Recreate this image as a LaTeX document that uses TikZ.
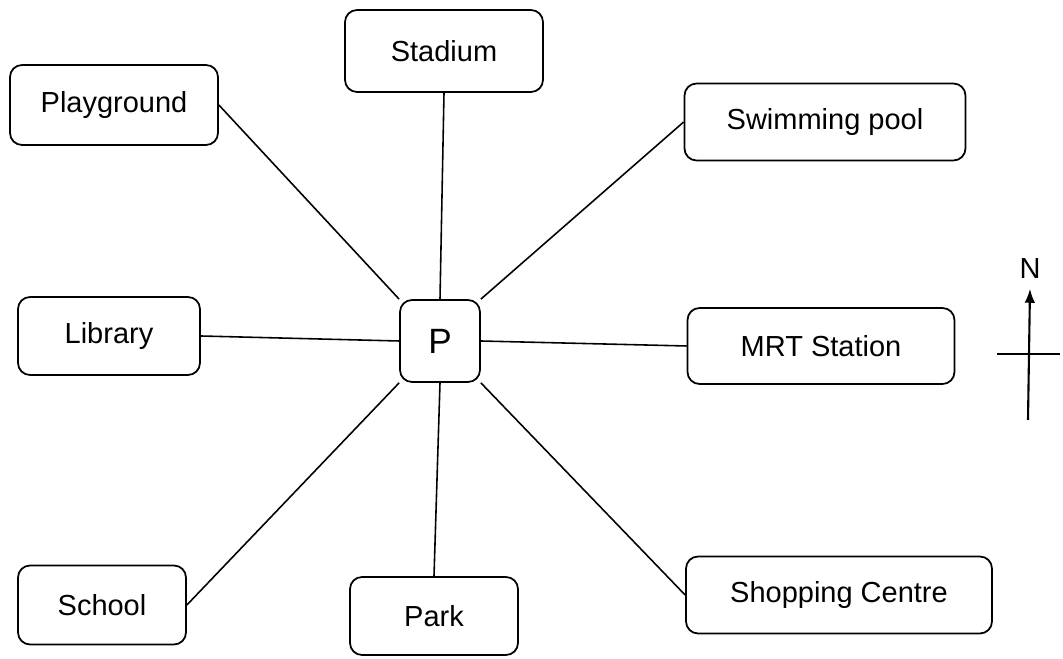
\documentclass[tikz,border=0pt]{standalone}
\usepackage{fontspec}
\setmainfont{Liberation Sans}
\usetikzlibrary{arrows.meta}
\begin{document}
\begin{tikzpicture}[x=0.02cm,y=0.02cm,
place/.style={draw,line width=1pt,rounded corners=0.24cm,align=center,inner sep=0pt,font=\fontsize{16.5}{19}\selectfont},
road/.style={line width=0.9pt}]
\useasboundingbox (0,0) rectangle (1063,659);
\node[place,minimum width=1.6cm,minimum height=1.64cm,font=\fontsize{20}{24}\selectfont] (P) at (440,318) {P};
\node[place,minimum width=3.96cm,minimum height=1.64cm] (stadium) at (444,608) {Stadium};
\node[place,minimum width=4.16cm,minimum height=1.6cm] (playground) at (114,554) {Playground};
\node[place,minimum width=5.62cm,minimum height=1.54cm] (pool) at (825,537) {Swimming pool};
\node[place,minimum width=3.64cm,minimum height=1.56cm] (library) at (109,323) {Library};
\node[place,minimum width=5.34cm,minimum height=1.52cm] (mrt) at (821,313) {MRT Station};
\node[place,minimum width=3.36cm,minimum height=1.58cm] (school) at (102,54) {School};
\node[place,minimum width=3.36cm,minimum height=1.56cm] (park) at (434,43) {Park};
\node[place,minimum width=6.12cm,minimum height=1.54cm] (shopping) at (839,64) {Shopping Centre};
\draw[road] (playground.east) -- (P.north west);
\draw[road] (stadium.south) -- (P.north);
\draw[road] (pool.west) -- (P.north east);
\draw[road] (library.east) -- (P.west);
\draw[road] (P.east) -- (mrt.west);
\draw[road] (school.east) -- (P.south west);
\draw[road] (park.north) -- (P.south);
\draw[road] (shopping.west) -- (P.south east);
% north arrow
\coordinate (s) at (1028,239);
\coordinate (w) at (997,305);
\coordinate (e) at (1060,305);
\node[font=\fontsize{16.5}{19}\selectfont] (N) at (1030,390) {N};
\draw[line width=1.2pt,-{Latex[length=8pt,width=6pt]}] (s) -- ([yshift=-2pt]N.south);
\draw[line width=1pt] (w) -- (e);
\end{tikzpicture}
\end{document}
